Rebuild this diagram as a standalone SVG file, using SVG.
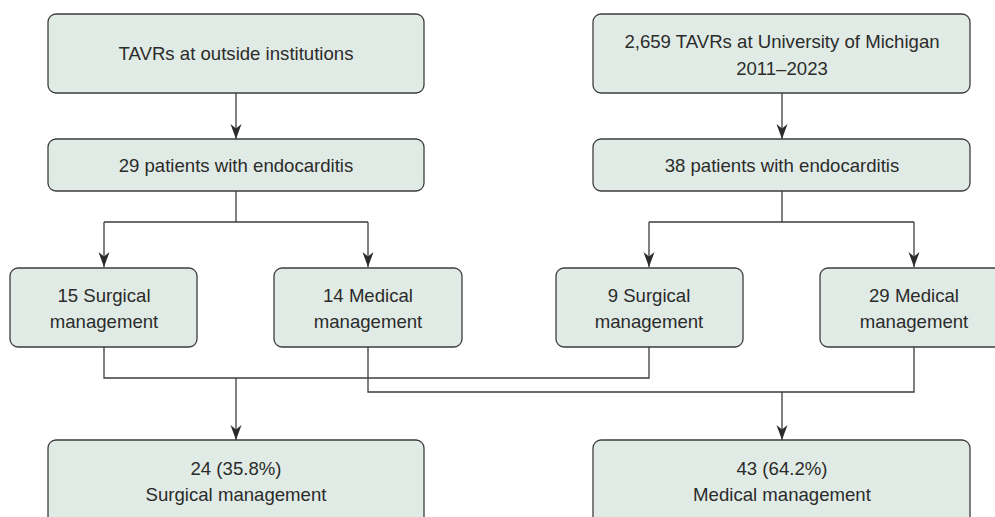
<svg xmlns="http://www.w3.org/2000/svg" width="995" height="517" viewBox="0 0 995 517">
<defs>
<style>
.box{fill:#e1ebe5;stroke:#3d3d3d;stroke-width:1.3}
.t{font-family:"Liberation Sans",Arial,sans-serif;font-size:18.6px;fill:#2b2b2b;text-anchor:middle}
.c{fill:none;stroke:#3d3d3d;stroke-width:1.3}
</style>
<marker id="ad" markerWidth="12" markerHeight="16" viewBox="0 0 12 16" refX="6" refY="16" orient="0" markerUnits="userSpaceOnUse">
<path d="M0.5,1 L6,5.5 L11.5,1 L6,16 Z" fill="#2b2b2b"/>
</marker>
</defs>
<rect width="995" height="517" fill="#ffffff"/>
<g id="connectors">
<path class="c" d="M236,93 V139" marker-end="url(#ad)"/>
<path class="c" d="M782,93 V139" marker-end="url(#ad)"/>
<path class="c" d="M236,191 V222 M104,222 H368"/>
<path class="c" d="M104,222 V267" marker-end="url(#ad)"/>
<path class="c" d="M368,222 V267" marker-end="url(#ad)"/>
<path class="c" d="M782,191 V222 M649,222 H914"/>
<path class="c" d="M649,222 V267" marker-end="url(#ad)"/>
<path class="c" d="M914,222 V267" marker-end="url(#ad)"/>
<path class="c" d="M104,347 V378 H649 V347"/>
<path class="c" d="M368,347 V392 H914 V347"/>
<path class="c" d="M236,378 V440" marker-end="url(#ad)"/>
<path class="c" d="M782,392 V440" marker-end="url(#ad)"/>
</g>
<g id="n1"><rect class="box" x="48" y="14" width="376" height="79" rx="8"/><text class="t" x="236" y="60">TAVRs at outside institutions</text></g>
<g id="n2"><rect class="box" x="593" y="14" width="377" height="79" rx="8"/><text class="t" x="782" y="48">2,659 TAVRs at University of Michigan</text><text class="t" x="782" y="75">2011–2023</text></g>
<g id="n3"><rect class="box" x="48" y="139" width="376" height="52" rx="8"/><text class="t" x="236" y="172">29 patients with endocarditis</text></g>
<g id="n4"><rect class="box" x="593" y="139" width="377" height="52" rx="8"/><text class="t" x="782" y="172">38 patients with endocarditis</text></g>
<g id="n5"><rect class="box" x="10" y="268" width="187" height="79" rx="8"/><text class="t" x="104" y="302">15 Surgical</text><text class="t" x="104" y="328">management</text></g>
<g id="n6"><rect class="box" x="274" y="268" width="188" height="79" rx="8"/><text class="t" x="368" y="302">14 Medical</text><text class="t" x="368" y="328">management</text></g>
<g id="n7"><rect class="box" x="556" y="268" width="187" height="79" rx="8"/><text class="t" x="649" y="302">9 Surgical</text><text class="t" x="649" y="328">management</text></g>
<g id="n8"><rect class="box" x="820" y="268" width="188" height="79" rx="8"/><text class="t" x="914" y="302">29 Medical</text><text class="t" x="914" y="328">management</text></g>
<g id="n9"><rect class="box" x="48" y="440" width="376" height="90" rx="8"/><text class="t" x="236" y="475">24 (35.8%)</text><text class="t" x="236" y="501">Surgical management</text></g>
<g id="n10"><rect class="box" x="593" y="440" width="377" height="90" rx="8"/><text class="t" x="782" y="475">43 (64.2%)</text><text class="t" x="782" y="501">Medical management</text></g>
</svg>
